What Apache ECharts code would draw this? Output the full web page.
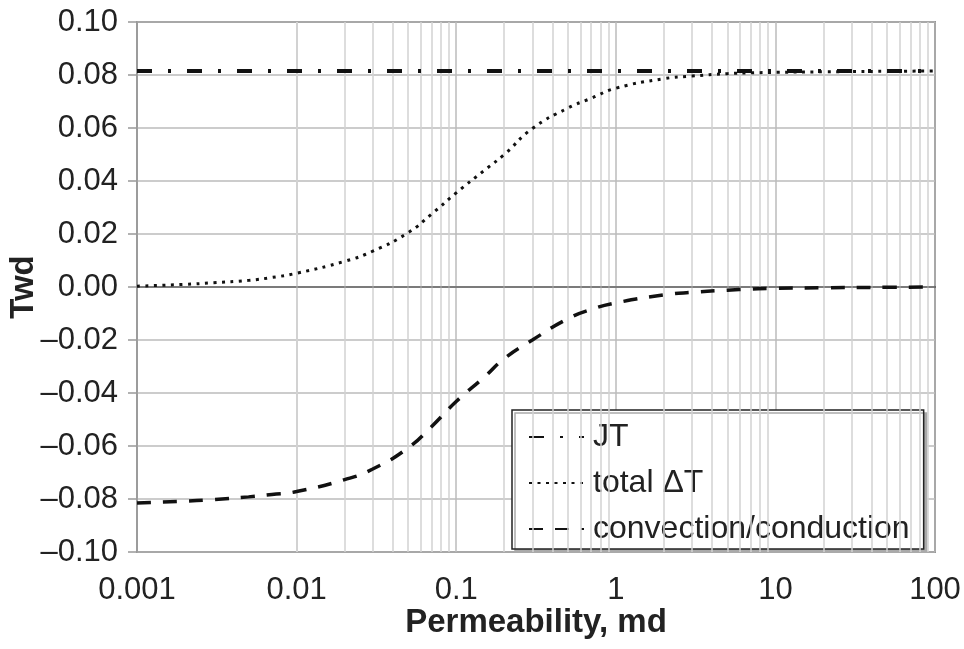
<!DOCTYPE html>
<html>
<head>
<meta charset="utf-8">
<script src="https://cdn.jsdelivr.net/npm/echarts@6/dist/echarts.min.js"></script>
<style>html,body{margin:0;padding:0;background:#fff;}#c{width:964px;height:649px;}</style>
</head>
<body>
<div id="c"></div>
<script>
// Data
var permeability = [0.001,0.002,0.003,0.005,0.007,0.01,0.02,0.03,0.05,0.07,0.1,0.15,0.2,0.3,0.5,0.7,1,2,3,5,7,10,20,50,100];
var jtValues     = [0.0815,0.0815,0.0815,0.0815,0.0815,0.0815,0.0815,0.0815,0.0815,0.0815,0.0815,0.0815,0.0815,0.0815,0.0815,0.0815,0.0815,0.0815,0.0815,0.0815,0.0815,0.0815,0.0815,0.0815,0.0815];
var totalValues  = [0.0003,0.0010,0.0016,0.0025,0.0036,0.0052,0.0097,0.0135,0.0205,0.0275,0.0355,0.0440,0.0500,0.0598,0.0675,0.0712,0.0750,0.0786,0.0796,0.0805,0.0808,0.0810,0.0812,0.0814,0.0815];
var convValues   = [-0.0815,-0.0808,-0.0802,-0.0792,-0.0783,-0.0772,-0.0727,-0.0687,-0.0607,-0.0527,-0.0432,-0.0340,-0.0270,-0.0200,-0.0120,-0.0085,-0.0060,-0.0030,-0.0020,-0.0012,-0.0008,-0.0005,-0.0003,-0.0001,0.0000];
var xTickLabels = ['0.001','0.01','0.1','1','10','100'];
var seriesNames = ['JT','total \u0394T','convection/conduction'];

function zip(xs, ys){ return xs.map(function(x,i){ return [x, ys[i]]; }); }

var minorLines = [];
for (var k = -3; k < 2; k++) {
  for (var d = 2; d <= 9; d++) minorLines.push({xAxis: d * Math.pow(10, k)});
}

var FONT = 'Liberation Sans, Arial, Helvetica, sans-serif';
var chart = echarts.init(document.getElementById('c'), null, {renderer:'canvas'});
chart.setOption({
  animation: false,
  backgroundColor: '#fff',
  grid: {left:137, right:29, top:22, bottom:97, containLabel:false, outerBoundsMode:'none',
         show:true, borderColor:'#444', borderWidth:1.5},
  xAxis: {
    type:'log', logBase:10, min:0.001, max:100,
    name:'Permeability, md', nameLocation:'middle', nameGap:54, nameMoveOverlap:false,
    nameTextStyle:{fontFamily:FONT, fontSize:33, fontWeight:'bold', color:'#222'},
    axisLine:{show:true, lineStyle:{color:'#555', width:2}},
    axisTick:{show:false},
    axisLabel:{fontFamily:FONT, fontSize:31, color:'#222', margin:23,
      formatter:function(v){ return xTickLabels[Math.round(Math.log10(v)) + 3]; }},
    splitLine:{show:true, lineStyle:{color:'#bbb', width:1.5}},
    minorTick:{show:false}, minorSplitLine:{show:false}
  },
  yAxis: {
    type:'value', min:-0.1, max:0.1, interval:0.02,
    name:'Twd', nameLocation:'middle', nameGap:97, nameRotate:90, nameMoveOverlap:false,
    nameTextStyle:{fontFamily:FONT, fontSize:33, fontWeight:'bold', color:'#222'},
    axisLine:{show:true, lineStyle:{color:'#999', width:1.5}},
    axisTick:{show:true, inside:false, length:9, lineStyle:{color:'#999', width:1.5}},
    axisLabel:{fontFamily:FONT, fontSize:31, color:'#222', margin:19,
      formatter:function(v){ return v.toFixed(2).replace('-', '\u2013'); }},
    splitLine:{show:true, lineStyle:{color:'#bbb', width:1.5}}
  },
  legend: {
    left:512, top:410, orient:'vertical', itemWidth:55, itemHeight:14, itemGap:14,
    padding:[11,14,4,16],
    backgroundColor:'#fff', borderColor:'#222', borderWidth:1.5,
    shadowColor:'#aaa', shadowOffsetX:3, shadowOffsetY:3, shadowBlur:0,
    itemStyle:{opacity:0},
    textStyle:{fontFamily:FONT, fontSize:32, color:'#222', lineHeight:32, padding:[0,0,0,4]},
    data: seriesNames
  },
  series: [
    {
      type:'line', name:'grid', silent:true, data:[], symbol:'none',
      markLine:{silent:true, symbol:'none', label:{show:false},
        lineStyle:{color:'#d2d2d2', width:1.5, type:'solid'},
        data: minorLines}
    },
    {
      type:'line', name:'zero', silent:true, data:[], symbol:'none',
      markLine:{silent:true, symbol:'none', label:{show:false},
        lineStyle:{color:'#888', width:1.5, type:'solid'},
        data:[{yAxis:0}]}
    },
    {
      type:'line', name:seriesNames[0], data:zip(permeability, jtValues), symbol:'none', z:5,
      lineStyle:{color:'#111', width:4, type:[15,16,3,16], cap:'butt'}, itemStyle:{color:'#111'}
    },
    {
      type:'line', name:seriesNames[1], data:zip(permeability, totalValues), symbol:'none', smooth:true, z:5,
      lineStyle:{color:'#111', width:3, type:[3,5.5], cap:'butt'}, itemStyle:{color:'#111'}
    },
    {
      type:'line', name:seriesNames[2], data:zip(permeability, convValues), symbol:'none', smooth:true, z:5,
      lineStyle:{color:'#111', width:3.5, type:[14,12], cap:'butt'}, itemStyle:{color:'#111'}
    }
  ]
});
</script>
</body>
</html>
